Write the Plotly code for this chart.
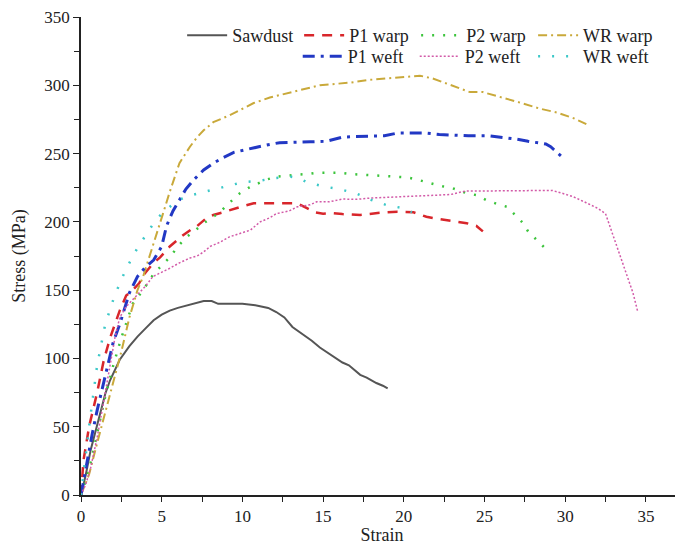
import plotly.graph_objects as go

# tensile curves (strain, stress in MPa)
sawdust_strain = [0, 0.3, 0.6, 1.0, 1.2, 1.5, 1.8, 2.1, 2.4, 3.0, 3.5, 4.0, 4.5, 5.0, 5.5, 6.0, 6.6, 7.2,
                  7.6, 8.1, 8.5, 9.0, 10.0, 10.8, 11.6, 12.1, 12.6, 13.1, 13.8, 14.3, 14.8, 15.6, 16.2,
                  16.6, 17.3, 17.7, 18.3, 18.7, 19.0]
sawdust_stress = [0, 15, 33, 52, 62, 74, 84, 92, 99, 109, 116, 122, 128, 132, 135, 137, 139, 141,
                  142, 142, 140, 140, 140, 139, 137, 134, 130, 123, 117, 113, 108, 102, 97,
                  95, 88, 86, 82, 80, 78]

p1_warp_strain = [0, 0.15, 0.5, 0.75, 1.0, 1.4, 1.8, 2.4, 2.8, 3.2, 3.6, 4.0, 4.5, 4.9, 5.5, 5.9, 6.3,
                  6.9, 7.2, 7.8, 8.2, 8.8, 9.2, 9.9, 10.7, 11.7, 12.7, 13.4, 14.0, 14.5, 15.0, 15.5,
                  16.2, 17.3, 18.5, 19.6, 20.6, 21.4, 21.8, 22.9, 23.9, 24.5, 24.9]
p1_warp_stress = [0, 25, 50, 62, 75, 98, 115, 135, 146, 150, 155, 163, 170, 174, 182, 186, 190,
                  195, 197, 203, 205, 207, 208.6, 211, 213.6, 213.6, 213.6, 213.6, 210, 207, 206, 206.5,
                  205.7, 205, 206.6, 207.4, 207, 203.7, 202.8, 201, 199, 197, 193]

p2_warp_strain = [0, 0.5, 1.0, 1.5, 2.0, 2.5, 3.2, 3.85, 4.5, 4.9, 5.5, 6.0, 6.55, 7.1, 7.6, 8.1, 8.6,
                  9.2, 9.85, 10.4, 10.9, 11.5, 12.1, 12.8, 13.4, 14.0, 14.6, 15.3, 16.0, 16.7, 17.5,
                  18.1, 18.7, 19.4, 20.2, 20.8, 21.4, 21.9, 22.4, 23.0, 23.9, 24.5, 25.1, 25.8, 26.4,
                  26.9, 27.4, 27.7, 28.3, 28.9]
p2_warp_stress = [0, 18, 45, 72, 95, 115, 140, 150, 162, 167, 174, 182, 189, 194, 199, 203, 207,
                  214, 221, 225, 228, 231, 233, 234, 234.5, 235, 236, 236, 236, 235, 234.5,
                  234, 233.5, 233, 232.6, 231, 229, 227.5, 226, 224.7, 221, 219.6, 216, 213, 211,
                  205, 199, 193, 186, 179]

wr_warp_strain = [0, 0.5, 1.0, 1.5, 2.0, 2.5, 3.0, 3.5, 3.85, 4.46, 5.08, 5.5, 6.1, 6.75, 7.2, 7.6,
                  8.2, 9.2, 10.0, 10.7, 11.7, 12.5, 13.4, 14.8, 16.0, 16.7, 17.9, 19.0, 19.8, 21.0,
                  21.8, 22.4, 23.4, 24.1, 24.9, 26.0, 27.0, 28.4, 29.5, 30.5, 31.0, 31.4]
wr_warp_stress = [0, 15, 38, 60, 83, 105, 130, 150, 160, 182, 206, 222, 243, 255, 262, 267,
                  273, 278, 283, 287, 291, 293.5, 296, 300, 301, 302, 304, 305, 306, 307,
                  305, 302.5, 298, 295, 295, 291.6, 288, 283, 280, 276, 273.5, 271]

p1_weft_strain = [0, 0.3, 0.7, 1.0, 1.5, 2.0, 2.4, 3.0, 3.5, 4.0, 4.5, 5.0, 5.3, 5.7, 6.1, 6.5, 7.0,
                  7.6, 8.2, 8.8, 9.5, 10.2, 10.9, 11.6, 12.3, 13.2, 14.2, 15.2, 16.2, 17.0, 17.9,
                  18.8, 19.6, 20.4, 21.4, 22.2, 22.9, 24.0, 25.3, 26.1, 27.0, 27.7, 28.4, 28.8,
                  29.1, 29.5, 29.8]
p1_weft_stress = [0, 20, 45, 62, 88, 112, 125, 148, 160, 167, 172, 182, 197, 208, 216, 224, 231,
                  238, 243, 247, 251, 253, 255, 256.5, 258, 258.5, 258.6, 259, 262, 262.5, 263,
                  263, 265, 265, 265, 264, 263.5, 263, 263, 262, 260.5, 259, 258, 257,
                  255, 251, 247.7]

p2_weft_strain = [0, 0.3, 0.6, 1.0, 1.4, 1.8, 2.1, 2.4, 2.8, 3.2, 3.6, 4.0, 4.46, 5.0, 5.5, 6.1, 6.75,
                  7.2, 7.6, 8.0, 8.6, 9.2, 10.0, 10.5, 11.1, 11.7, 12.1, 12.9, 13.4, 14.2, 14.6,
                  15.4, 16.2, 17.1, 17.9, 19.0, 20.0, 21.0, 22.4, 22.9, 23.4, 23.9, 24.7, 26.0,
                  27.8, 29.2, 29.8, 30.5, 31.3, 32.0, 32.5, 33.0, 33.4, 33.8, 34.2, 34.5]
p2_weft_stress = [0, 8, 20, 42, 68, 95, 115, 130, 138, 143, 148, 153, 160, 163, 166, 170, 173.5,
                  175, 178, 182, 185, 189, 192, 194, 200, 203, 206, 208, 211, 212.5, 214.7,
                  214.7, 216.7, 216.5, 217.4, 218, 218.4, 219, 219.6, 220, 221.5, 222.6, 222.6, 222.8,
                  223, 223, 221, 218.4, 214, 210, 206, 189, 176, 162.5, 148, 134]

wr_weft_strain = [0, 0.2, 0.5, 1.0, 1.5, 2.0, 2.5, 3.0, 3.5, 4.0, 4.5, 5.0, 5.5, 6.0, 7.0, 8.0, 9.0,
                  10.0, 11.0, 12.0, 13.0, 13.5, 14.0, 15.0, 16.0, 17.0, 18.0, 19.0, 20.0, 20.5]
wr_weft_stress = [0, 20, 50, 95, 125, 143, 158, 170, 181, 190, 199, 206, 211, 216, 220, 223, 226,
                  229, 230, 232, 233, 232, 229, 226, 224, 221, 216, 212, 210, 207]

FONT = "'Liberation Serif', 'Times New Roman', serif"

# legend rows: row 1 = Sawdust .. P2 warp (+ WR warp on its own), row 2 = P1/P2 weft (+ WR weft)
series = [
    ("Sawdust", sawdust_strain, sawdust_stress, "#555555", 2, "solid", "legend"),
    ("P1 warp", p1_warp_strain, p1_warp_stress, "#d8262b", 2.5, "10px,8px", "legend"),
    ("P2 warp", p2_warp_strain, p2_warp_stress, "#3cc43c", 2.5, "2px,9px", "legend"),
    ("WR warp", wr_warp_strain, wr_warp_stress, "#c9a93a", 2, "9px,4px,2px,4px", "legend3"),
    ("P1 weft", p1_weft_strain, p1_weft_stress, "#2238c4", 3, "12px,6px,3px,6px", "legend2"),
    ("P2 weft", p2_weft_strain, p2_weft_stress, "#d25aa8", 1.5, "2px,2px", "legend2"),
    ("WR weft", wr_weft_strain, wr_weft_stress, "#3cc8c8", 2.5, "2px,12px", "legend4"),
]

fig = go.Figure()
for name, xs, ys, color, width, dash, leg in series:
    fig.add_trace(go.Scatter(x=xs, y=ys, mode="lines", name=name, legend=leg,
                             line=dict(color=color, width=width, dash=dash)))

legend_common = dict(orientation="h", xanchor="left", yanchor="top", bgcolor="rgba(0,0,0,0)",
                     font=dict(family=FONT, size=18, color="#222"),
                     itemwidth=40, tracegroupgap=0)

# the page body adds an 8px margin, so the figure is 8px smaller than the window
fig.update_layout(
    width=675, height=537,
    margin=dict(l=73, r=0, t=9, b=50),
    paper_bgcolor="white", plot_bgcolor="white",
    font=dict(family=FONT, size=17, color="#222"),
    legend=dict(x=0.168, y=1.0, entrywidth=62, **legend_common),
    legend2=dict(x=0.36, y=0.956, entrywidth=62, **legend_common),
    legend3=dict(x=0.751, y=1.0, **legend_common),
    legend4=dict(x=0.751, y=0.956, **legend_common),
    xaxis=dict(range=[0, 37.3], tickvals=[0, 5, 10, 15, 20, 25, 30, 35],
               ticks="outside", ticklen=5, tickcolor="#222", showline=True, linecolor="#222",
               linewidth=1.5, showgrid=False, zeroline=False,
               minor=dict(ticks="outside", dtick=2.5, ticklen=5, tickcolor="#222"),
               title=dict(text="Strain", font=dict(size=18), standoff=1)),
    yaxis=dict(range=[0, 350], dtick=50, ticks="outside", ticklen=6, tickcolor="#222",
               showline=True, linecolor="#222", linewidth=1.5, showgrid=False, zeroline=False,
               ticklabeloverflow="allow",
               minor=dict(ticks="outside", dtick=25, ticklen=5, tickcolor="#222"),
               title=dict(text="Stress (MPa)", font=dict(size=18), standoff=14)),
)

fig.write_html("out.html")
